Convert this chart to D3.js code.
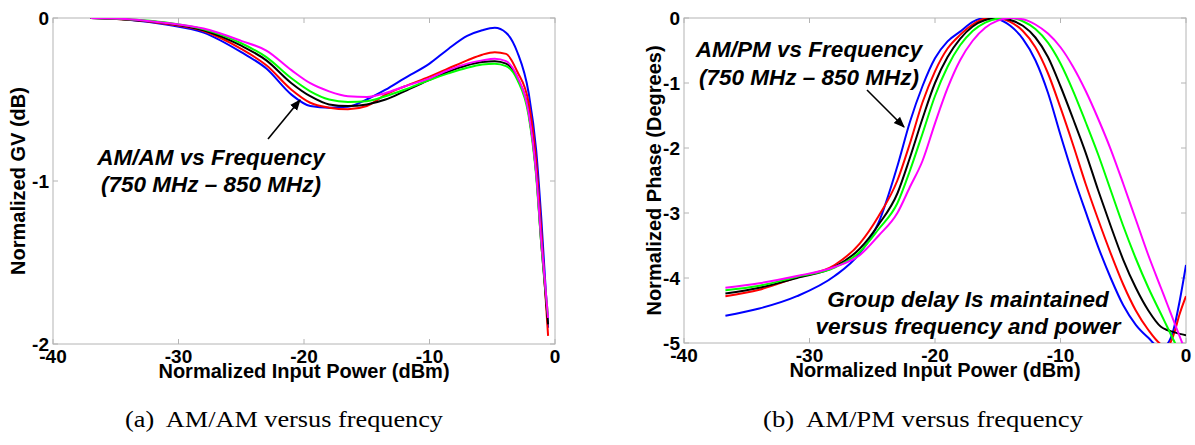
<!DOCTYPE html>
<html>
<head>
<meta charset="utf-8">
<script src="https://cdn.jsdelivr.net/npm/d3@7.9.0/dist/d3.min.js"></script>
<style>
  html, body { margin: 0; padding: 0; background: #fff; }
  svg { display: block; }
  .tick-label { font: bold 19px Arial, "Liberation Sans", sans-serif; fill: #000; }
  .axis-title { font: bold 20px Arial, "Liberation Sans", sans-serif; fill: #000; }
  .note { font: italic bold 22.5px Arial, "Liberation Sans", sans-serif; fill: #000; }
  .caption { font: 24px "Times New Roman", "Liberation Serif", serif; fill: #000; }
</style>
</head>
<body>
<svg id="chart" width="1195" height="445"></svg>
<script>
// ---- data: AM/AM (normalized GV, dB) vs normalized input power (dBm) ----
const xAmAm = [-37, -34, -31, -28, -25, -23, -21, -19.5, -18, -16.5, -15, -13.5, -12, -10,
               -8.5, -7, -5.8, -4.8, -3.9, -3, -2.1, -1.5, -1.1, -0.55];
const amamBlue    = [0, -0.01, -0.04, -0.09, -0.21, -0.31, -0.47, -0.54, -0.55, -0.545, -0.50, -0.44, -0.37, -0.28,
                     -0.19, -0.11, -0.075, -0.06, -0.09, -0.21, -0.46, -0.81, -1.22, -1.90];
const amamRed     = [0, -0.01, -0.035, -0.08, -0.19, -0.29, -0.44, -0.52, -0.55, -0.56, -0.54, -0.47, -0.42, -0.36,
                     -0.31, -0.26, -0.225, -0.21, -0.22, -0.33, -0.52, -0.88, -1.30, -1.95];
const amamBlack   = [0, -0.01, -0.03, -0.075, -0.17, -0.26, -0.40, -0.48, -0.53, -0.54, -0.53, -0.50, -0.45, -0.38,
                     -0.33, -0.29, -0.27, -0.265, -0.28, -0.37, -0.58, -0.95, -1.38, -1.88];
const amamGreen   = [0, -0.008, -0.028, -0.07, -0.155, -0.24, -0.37, -0.45, -0.50, -0.515, -0.51, -0.48, -0.44, -0.38,
                     -0.34, -0.305, -0.285, -0.28, -0.295, -0.38, -0.60, -0.97, -1.38, -1.83];
const amamMagenta = [0, -0.007, -0.03, -0.065, -0.14, -0.20, -0.32, -0.40, -0.45, -0.48, -0.485, -0.46, -0.42, -0.37,
                     -0.32, -0.28, -0.26, -0.25, -0.265, -0.36, -0.58, -0.95, -1.36, -1.84];

// ---- data: AM/PM (normalized phase, degrees) vs normalized input power (dBm) ----
const xAmPm = [-36.7, -34, -31, -28, -26, -24.5, -23, -22, -21, -20, -19, -18, -17, -16, -15, -14, -13,
               -12, -11, -10, -9, -8, -7, -6, -5, -4, -3, -2, -1.5, -1, -0.5, 0];
const ampmBlue    = [-4.58, -4.47, -4.28, -3.97, -3.62, -3.15, -2.28, -1.6, -1.05, -0.62, -0.36, -0.21, -0.06, 0, -0.02, -0.12, -0.32,
                     -0.65, -1.15, -1.8, -2.42, -2.98, -3.52, -4.0, -4.42, -4.72, -4.92, -5.08, -5.02, -4.8, -4.35, -3.8];
const ampmRed     = [-4.28, -4.18, -3.99, -3.8, -3.47, -3.05, -2.5, -1.93, -1.3, -0.82, -0.47, -0.26, -0.1, -0.01, 0, -0.06, -0.2,
                     -0.45, -0.85, -1.38, -1.95, -2.55, -3.1, -3.62, -4.1, -4.5, -4.8, -5.02, -5.06, -4.88, -4.55, -4.28];
const ampmBlack   = [-4.24, -4.15, -4.0, -3.83, -3.55, -3.18, -2.7, -2.15, -1.55, -1.0, -0.6, -0.32, -0.13, -0.03, 0, -0.03, -0.12,
                     -0.3, -0.6, -1.05, -1.55, -2.07, -2.65, -3.2, -3.72, -4.15, -4.5, -4.75, -4.8, -4.83, -4.86, -4.88];
const ampmGreen   = [-4.19, -4.12, -3.98, -3.84, -3.6, -3.25, -2.85, -2.35, -1.78, -1.2, -0.75, -0.42, -0.2, -0.07, -0.01, 0, -0.05,
                     -0.17, -0.38, -0.7, -1.12, -1.6, -2.1, -2.65, -3.2, -3.7, -4.15, -4.55, -4.75, -4.95, -5.15, -5.3];
const ampmMagenta = [-4.15, -4.08, -3.97, -3.83, -3.65, -3.35, -3.0, -2.6, -2.2, -1.62, -1.08, -0.65, -0.35, -0.15, -0.04, 0, -0.02,
                     -0.1, -0.24, -0.45, -0.75, -1.12, -1.55, -2.02, -2.55, -3.1, -3.65, -4.15, -4.4, -4.65, -4.9, -5.15];

const xTicks = [-40, -30, -20, -10, 0];
const amamTicks = [0, -1, -2];
const ampmTicks = [0, -1, -2, -3, -4, -5];

const seriesColors = ['#0000ff', '#ff0000', '#000000', '#00ff00', '#ff00ff'];

const svg = d3.select('#chart');

svg.append('defs').append('marker')
  .attr('id', 'arrow')
  .attr('viewBox', '0 0 10 10')
  .attr('refX', 9).attr('refY', 5)
  .attr('markerWidth', 7).attr('markerHeight', 7)
  .attr('orient', 'auto-start-reverse')
  .append('path')
  .attr('d', 'M0,1 L10,5 L0,9 z')
  .attr('fill', '#000');

function drawPanel(cfg) {
  const { id, box, yDomain, yTicks, xs, series, yTitle, yTitleOffset } = cfg;
  const x = d3.scaleLinear().domain([-40, 0]).range([box.left, box.right]);
  const y = d3.scaleLinear().domain(yDomain).range([box.bottom, box.top]);
  const g = svg.append('g');

  g.append('clipPath').attr('id', `clip-${id}`)
    .append('rect')
    .attr('x', box.left).attr('y', box.top)
    .attr('width', box.right - box.left).attr('height', box.bottom - box.top);

  // box
  g.append('rect')
    .attr('x', box.left).attr('y', box.top)
    .attr('width', box.right - box.left).attr('height', box.bottom - box.top)
    .attr('fill', 'none').attr('stroke', '#b4b4b4').attr('stroke-width', 1);

  // inward ticks, mirrored on the opposite sides
  const tickLen = 5;
  const ticks = g.append('g').attr('stroke', '#b4b4b4').attr('stroke-width', 1);
  xTicks.forEach(t => {
    ticks.append('line').attr('x1', x(t)).attr('x2', x(t)).attr('y1', box.bottom).attr('y2', box.bottom - tickLen);
    ticks.append('line').attr('x1', x(t)).attr('x2', x(t)).attr('y1', box.top).attr('y2', box.top + tickLen);
  });
  yTicks.forEach(t => {
    ticks.append('line').attr('y1', y(t)).attr('y2', y(t)).attr('x1', box.left).attr('x2', box.left + tickLen);
    ticks.append('line').attr('y1', y(t)).attr('y2', y(t)).attr('x1', box.right).attr('x2', box.right - tickLen);
  });

  g.append('g').selectAll('text').data(xTicks).join('text')
    .attr('class', 'tick-label')
    .attr('x', d => x(d)).attr('y', box.bottom + 19)
    .attr('text-anchor', 'middle')
    .text(d => d);

  g.append('g').selectAll('text').data(yTicks).join('text')
    .attr('class', 'tick-label')
    .attr('x', box.left - 4).attr('y', d => y(d) + 7)
    .attr('text-anchor', 'end')
    .text(d => d);

  g.append('text').attr('class', 'axis-title')
    .attr('x', (box.left + box.right) / 2).attr('y', box.bottom + 34)
    .attr('text-anchor', 'middle')
    .text('Normalized Input Power (dBm)');

  g.append('text').attr('class', 'axis-title')
    .attr('transform', `translate(${box.left - yTitleOffset},${(box.top + box.bottom) / 2}) rotate(-90)`)
    .attr('text-anchor', 'middle')
    .text(yTitle);

  const line = d3.line()
    .x((d, i) => x(xs[i]))
    .y(d => y(d))
    .curve(d3.curveMonotoneX);

  g.append('g').attr('clip-path', `url(#clip-${id})`)
    .selectAll('path').data(series).join('path')
    .attr('d', d => line(d))
    .attr('fill', 'none')
    .attr('stroke', (d, i) => seriesColors[i])
    .attr('stroke-width', 2);

  return { x, y, g };
}

// (a) AM/AM
drawPanel({
  id: 'amam',
  box: { left: 53, right: 555, top: 18, bottom: 344 },
  yDomain: [-2, 0], yTicks: amamTicks,
  xs: xAmAm,
  series: [amamBlue, amamRed, amamBlack, amamGreen, amamMagenta],
  yTitle: 'Normalized GV (dB)', yTitleOffset: 28
});

// (b) AM/PM
drawPanel({
  id: 'ampm',
  box: { left: 684, right: 1186, top: 18, bottom: 343 },
  yDomain: [-5, 0], yTicks: ampmTicks,
  xs: xAmPm,
  series: [ampmBlue, ampmRed, ampmBlack, ampmGreen, ampmMagenta],
  yTitle: 'Normalized Phase (Degrees)', yTitleOffset: 23
});

// annotations
function note(lines, cx, y0, dy) {
  lines.forEach((t, i) => {
    svg.append('text').attr('class', 'note')
      .attr('x', cx).attr('y', y0 + i * dy)
      .attr('text-anchor', 'middle')
      .text(t);
  });
}
note(['AM/AM vs Frequency', '(750 MHz \u2013 850 MHz)'], 211, 165, 27);
note(['AM/PM vs Frequency', '(750 MHz \u2013 850 MHz)'], 809, 57, 28);
note(['Group delay Is maintained', 'versus frequency and power'], 968, 307, 27);

function arrow(x1, y1, x2, y2) {
  svg.append('line')
    .attr('x1', x1).attr('y1', y1).attr('x2', x2).attr('y2', y2)
    .attr('stroke', '#000').attr('stroke-width', 1.6)
    .attr('marker-end', 'url(#arrow)');
}
arrow(268, 139, 300, 100);
arrow(867, 90, 904, 127);

// captions
svg.append('text').attr('class', 'caption')
  .attr('x', 284).attr('y', 427).attr('text-anchor', 'middle')
  .attr('xml:space', 'preserve')
  .attr('textLength', 318).attr('lengthAdjust', 'spacingAndGlyphs')
  .text('(a)  AM/AM versus frequency');
svg.append('text').attr('class', 'caption')
  .attr('x', 923).attr('y', 427).attr('text-anchor', 'middle')
  .attr('xml:space', 'preserve')
  .attr('textLength', 320).attr('lengthAdjust', 'spacingAndGlyphs')
  .text('(b)  AM/PM versus frequency');
</script>
</body>
</html>
